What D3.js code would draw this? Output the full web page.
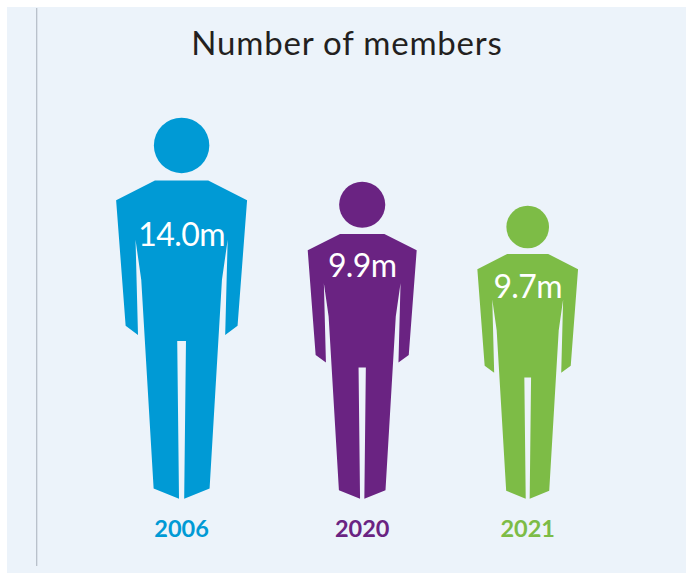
<!DOCTYPE html>
<html>
<head>
<meta charset="utf-8">
<script src="https://cdn.jsdelivr.net/npm/d3@7"></script>
<style>
html,body{margin:0;padding:0;background:#fff}
svg{display:block}
text{font-family:Lato,"Open Sans",sans-serif}
</style>
</head>
<body>
<svg id="chart" width="686" height="573"></svg>
<script>
// Membership totals, in millions
const years = ["2006", "2020", "2021"];
const members = [14.0, 9.9, 9.7];
const valueLabels = ["14.0m", "9.9m", "9.7m"];
const colours = ["#009ad5", "#6a2382", "#7dbc46"];

// Person glyph in its own unit box: x is distance from the centre line, y runs 0 (crown) to 100 (sole)
const headCentre = 7.2, headRadius = 7.28;
const profileX = [7.0, 17.2, 14.7, 11.45, 12.1, 10.6, 7.35, 0.68];
const profileY = [16.4, 21.6, 54.6, 57.0, 32.0, 42.5, 97.3, 100];
const gapTop = { x: 1.15, y: 58.6 };

const svg = d3.select("#chart");
const floorY = 498.7, fullHeight = 380.7;

// Glyph size grows with membership; the scale is stepped to the three drawn figures
const sizeScale = d3.scaleLinear().domain([9.7, 9.9, 14]).range([0.769, 0.832, 1]);
const centreScale = d3.scaleOrdinal().domain(years).range([181.6, 362.2, 527.7]);
const labelBaseline = d3.scaleOrdinal().domain(years).range([245.7, 276.7, 297.7]);

svg.append("rect").attr("x", 7).attr("y", 7).attr("width", 679).attr("height", 566).attr("fill", "#ecf3fa");
svg.append("line").attr("x1", 36.7).attr("x2", 36.7).attr("y1", 8).attr("y2", 566)
  .attr("stroke", "#b4bcc6").attr("stroke-width", 1.2);

svg.append("text").attr("x", 347).attr("y", 55).attr("text-anchor", "middle")
  .attr("font-size", 33).attr("letter-spacing", 0.8).attr("fill", "#231f20").text("Number of members");

years.forEach((year, i) => {
  const size = sizeScale(members[i]);
  const unit = fullHeight * size / 100;
  const cx = centreScale(year);
  const x = d3.scaleLinear().domain([-100, 100]).range([cx - 100 * unit, cx + 100 * unit]);
  const y = d3.scaleLinear().domain([0, 100]).range([floorY - 100 * unit, floorY]);

  // Walk down the right side, across the leg gap, then back up the left side
  const right = profileX.map((px, k) => [px, profileY[k]]);
  const left = right.slice().reverse().map(([px, py]) => [-px, py]);
  const outline = [...right, [gapTop.x, gapTop.y], [-gapTop.x, gapTop.y], ...left];
  const path = d3.line().x(d => x(d[0])).y(d => y(d[1]));

  const g = svg.append("g").attr("fill", colours[i]);
  g.append("circle").attr("cx", cx).attr("cy", y(headCentre)).attr("r", headRadius * unit);
  g.append("path").attr("d", path(outline) + "Z");

  svg.append("text").attr("x", cx).attr("y", labelBaseline(year)).attr("text-anchor", "middle")
    .attr("font-size", 32).attr("font-weight", 400).attr("letter-spacing", -0.6)
    .attr("fill", "#fff").text(valueLabels[i]);

  svg.append("text").attr("x", cx).attr("y", 537).attr("text-anchor", "middle")
    .attr("font-size", 23.5).attr("font-weight", 700).attr("fill", colours[i]).text(year);
});
</script>
</body>
</html>
